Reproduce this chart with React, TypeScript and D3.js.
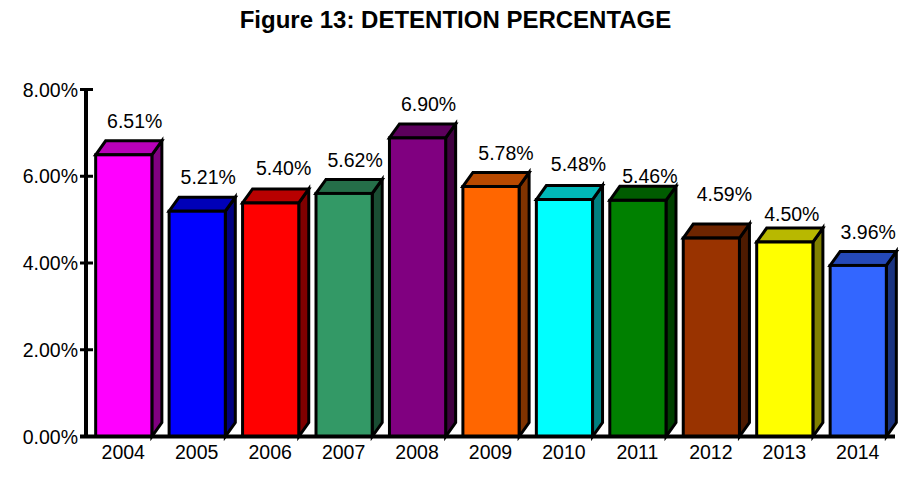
import React from 'react';
import * as d3 from 'd3';

const years = ['2004','2005','2006','2007','2008','2009','2010','2011','2012','2013','2014'];
const detention = [6.51,5.21,5.40,5.62,6.90,5.78,5.48,5.46,4.59,4.50,3.96];
const colors = ['#FF00FF','#0000FF','#FF0000','#339966','#800080','#FF6600','#00FFFF','#008000','#993300','#FFFF00','#3366FF'];
const yTicks = [0,2,4,6,8];
// hand-placed label nudges seen in the reference, relative to each bar's top
const labelNudgeX = [0,0,2,0,0,4,3,1,2,-4,-1];
const labelNudgeY = [0,-1,-1,0,0,0,-2,9,-10,6,0];

const font = '"Liberation Sans", Arial, sans-serif';
const shade = (c: string, k: number) => {
  const r = d3.rgb(c);
  return d3.rgb(r.r * k, r.g * k, r.b * k).formatHex();
};

export default function App() {
  const x = d3.scaleBand<string>().domain(years).range([87, 895]).paddingInner(0.235).paddingOuter(0.118);
  const y = d3.scaleLinear().domain([0, 8]).range([436.5, 89.5]);
  const dx = 10, dy = 14;
  const w = x.bandwidth();
  return (
    <svg width={917} height={489} style={{ position: 'absolute', left: 0, top: 0, background: '#fff' }} fontFamily={font}>
      <text x={455.5} y={28} textAnchor="middle" fontSize={24} fontWeight="bold" fill="#000">Figure 13: DETENTION PERCENTAGE</text>
      {years.map((yr, i) => {
        const x0 = x(yr)!, x1 = x0 + w, yt = y(detention[i]) + 0.7, yb = y(0);
        return (
          <g key={yr} stroke="#000" strokeWidth={3} strokeLinejoin="miter">
            <path d={d3.line()([[x1, yt], [x1 + dx, yt - dy], [x1 + dx, yb - dy], [x1, yb]])! + 'Z'} fill={shade(colors[i], 0.5)} />
            <path d={d3.line()([[x0, yt], [x0 + dx, yt - dy], [x1 + dx, yt - dy], [x1, yt]])! + 'Z'} fill={shade(colors[i], 0.72)} />
            <rect x={x0} y={yt} width={w} height={yb - yt} fill={colors[i]} />
          </g>
        );
      })}
      <line x1={86} x2={86} y1={88} y2={438} stroke="#000" strokeWidth={4} />
      <line x1={80} x2={895} y1={y(0)} y2={y(0)} stroke="#000" strokeWidth={4} />
      {yTicks.map(t => (
        <g key={t}>
          <line x1={80} x2={93} y1={y(t)} y2={y(t)} stroke="#000" strokeWidth={3} />
          <text x={78} y={y(t) + 7} textAnchor="end" fontSize={19.5} fill="#000">{t.toFixed(2)}%</text>
        </g>
      ))}
      {years.map(yr => (
        <text key={yr} x={x(yr)! + w / 2 - 0.5} y={459} textAnchor="middle" fontSize={19.5} fill="#000">{yr}</text>
      ))}
      {years.map((yr, i) => (
        <text key={yr} x={x(yr)! + w / 2 + 11 + labelNudgeX[i]} y={y(detention[i]) - 26 + labelNudgeY[i]} textAnchor="middle" fontSize={19.5} fill="#000">{detention[i].toFixed(2)}%</text>
      ))}
    </svg>
  );
}
